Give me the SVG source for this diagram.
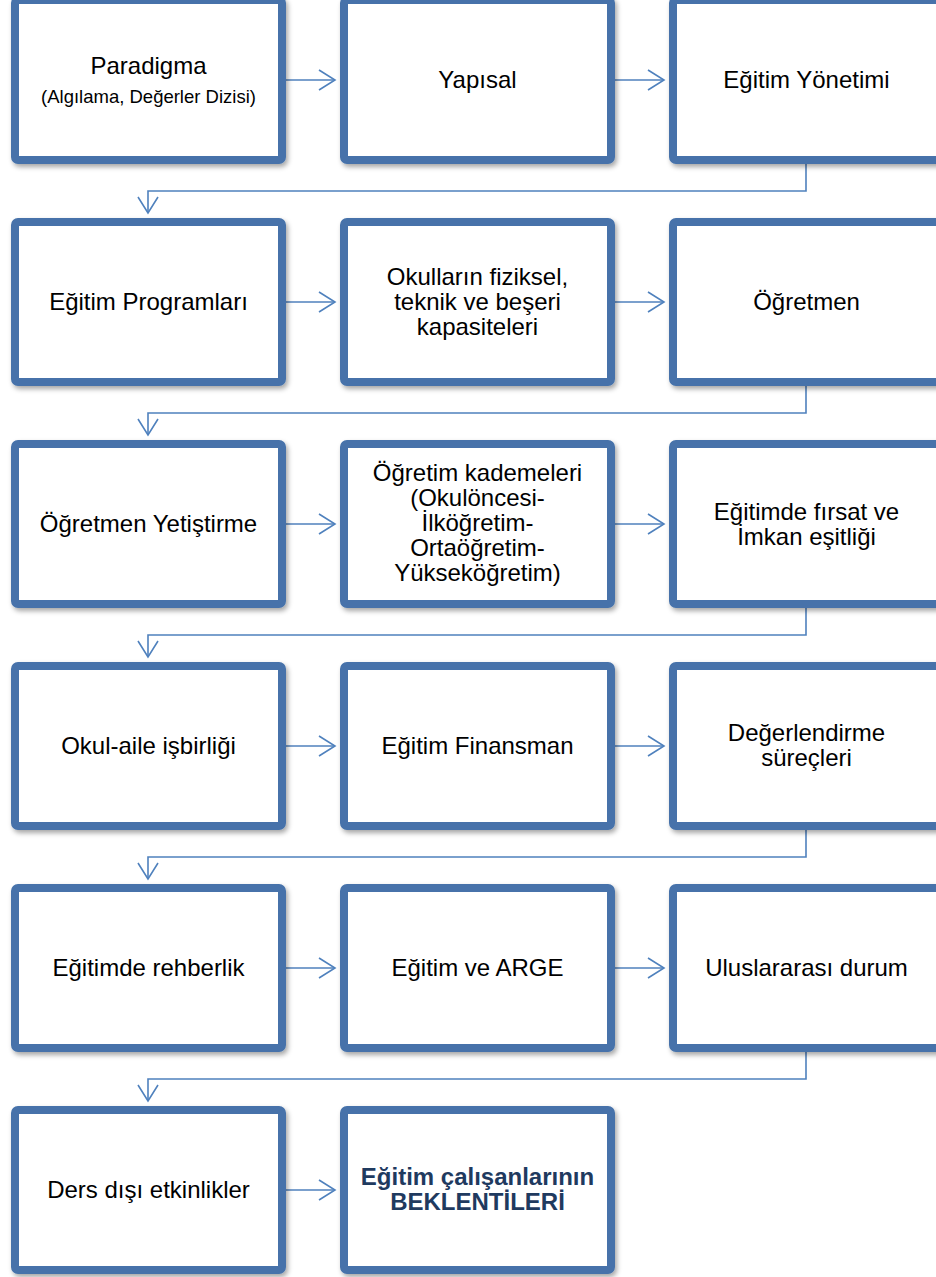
<svg xmlns="http://www.w3.org/2000/svg" width="936" height="1277" viewBox="0 0 936 1277">
<defs>
<filter id="sh" x="-10%" y="-10%" width="120%" height="120%">
<feDropShadow dx="2" dy="3" stdDeviation="2.5" flood-color="#000" flood-opacity="0.35"/>
</filter>
<marker id="ah" markerWidth="20" markerHeight="24" refX="18" refY="11" orient="auto" markerUnits="userSpaceOnUse">
<path d="M2,1 L18,11 L2,21" fill="none" stroke="#4F81BD" stroke-width="1.6"/>
</marker>
</defs>
<style>
.box{fill:#fff;stroke:#4672AA;stroke-width:8;filter:url(#sh)}
.t{font-family:"Liberation Sans",Arial,sans-serif;font-size:24px;fill:#000;text-anchor:middle}
.s{font-size:18.5px}
.b{font-weight:bold;fill:#1F3A5F}
.c{fill:none;stroke:#4F81BD;stroke-width:1.6}
</style>
<rect width="936" height="1277" fill="#fff"/>
<g id="connectors">
<path class="c" d="M286,80 H335" marker-end="url(#ah)"/>
<path class="c" d="M615,80 H664" marker-end="url(#ah)"/>
<path class="c" d="M806,164 V191 H148 V213" marker-end="url(#ah)"/>
<path class="c" d="M286,302 H335" marker-end="url(#ah)"/>
<path class="c" d="M615,302 H664" marker-end="url(#ah)"/>
<path class="c" d="M806,386 V413 H148 V435" marker-end="url(#ah)"/>
<path class="c" d="M286,524 H335" marker-end="url(#ah)"/>
<path class="c" d="M615,524 H664" marker-end="url(#ah)"/>
<path class="c" d="M806,608 V635 H148 V657" marker-end="url(#ah)"/>
<path class="c" d="M286,746 H335" marker-end="url(#ah)"/>
<path class="c" d="M615,746 H664" marker-end="url(#ah)"/>
<path class="c" d="M806,830 V857 H148 V879" marker-end="url(#ah)"/>
<path class="c" d="M286,968 H335" marker-end="url(#ah)"/>
<path class="c" d="M615,968 H664" marker-end="url(#ah)"/>
<path class="c" d="M806,1052 V1079 H148 V1101" marker-end="url(#ah)"/>
<path class="c" d="M286,1190 H335" marker-end="url(#ah)"/>
</g>
<g id="n1"><rect class="box" x="15" y="0" width="267" height="160" rx="3"/>
<text class="t" x="148.5" y="74">Paradigma</text>
<text class="t s" x="148.5" y="103">(Algılama, Değerler Dizisi)</text></g>
<g id="n2"><rect class="box" x="344" y="0" width="267" height="160" rx="3"/>
<text class="t" x="477.5" y="88">Yapısal</text></g>
<g id="n3"><rect class="box" x="673" y="0" width="267" height="160" rx="3"/>
<text class="t" x="806.5" y="88">Eğitim Yönetimi</text></g>

<g id="n4"><rect class="box" x="15" y="222" width="267" height="160" rx="3"/>
<text class="t" x="148.5" y="310">Eğitim Programları</text></g>
<g id="n5"><rect class="box" x="344" y="222" width="267" height="160" rx="3"/>
<text class="t" x="477.5" y="285">Okulların fiziksel,</text>
<text class="t" x="477.5" y="310">teknik ve beşeri</text>
<text class="t" x="477.5" y="335">kapasiteleri</text></g>
<g id="n6"><rect class="box" x="673" y="222" width="267" height="160" rx="3"/>
<text class="t" x="806.5" y="310">Öğretmen</text></g>

<g id="n7"><rect class="box" x="15" y="444" width="267" height="160" rx="3"/>
<text class="t" x="148.5" y="532">Öğretmen Yetiştirme</text></g>
<g id="n8"><rect class="box" x="344" y="444" width="267" height="160" rx="3"/>
<text class="t" x="477.5" y="481">Öğretim kademeleri</text>
<text class="t" x="477.5" y="506">(Okulöncesi-</text>
<text class="t" x="477.5" y="531">İlköğretim-</text>
<text class="t" x="477.5" y="556">Ortaöğretim-</text>
<text class="t" x="477.5" y="581">Yükseköğretim)</text></g>
<g id="n9"><rect class="box" x="673" y="444" width="267" height="160" rx="3"/>
<text class="t" x="806.5" y="520">Eğitimde fırsat ve</text>
<text class="t" x="806.5" y="545">İmkan eşitliği</text></g>

<g id="n10"><rect class="box" x="15" y="666" width="267" height="160" rx="3"/>
<text class="t" x="148.5" y="754">Okul-aile işbirliği</text></g>
<g id="n11"><rect class="box" x="344" y="666" width="267" height="160" rx="3"/>
<text class="t" x="477.5" y="754">Eğitim Finansman</text></g>
<g id="n12"><rect class="box" x="673" y="666" width="267" height="160" rx="3"/>
<text class="t" x="806.5" y="741">Değerlendirme</text>
<text class="t" x="806.5" y="766">süreçleri</text></g>

<g id="n13"><rect class="box" x="15" y="888" width="267" height="160" rx="3"/>
<text class="t" x="148.5" y="976">Eğitimde rehberlik</text></g>
<g id="n14"><rect class="box" x="344" y="888" width="267" height="160" rx="3"/>
<text class="t" x="477.5" y="976">Eğitim ve ARGE</text></g>
<g id="n15"><rect class="box" x="673" y="888" width="267" height="160" rx="3"/>
<text class="t" x="806.5" y="976">Uluslararası durum</text></g>

<g id="n16"><rect class="box" x="15" y="1110" width="267" height="160" rx="3"/>
<text class="t" x="148.5" y="1198">Ders dışı etkinlikler</text></g>
<g id="n17"><rect class="box" x="344" y="1110" width="267" height="160" rx="3"/>
<text class="t b" x="477.5" y="1185">Eğitim çalışanlarının</text>
<text class="t b" x="477.5" y="1210">BEKLENTİLERİ</text></g>
</svg>
